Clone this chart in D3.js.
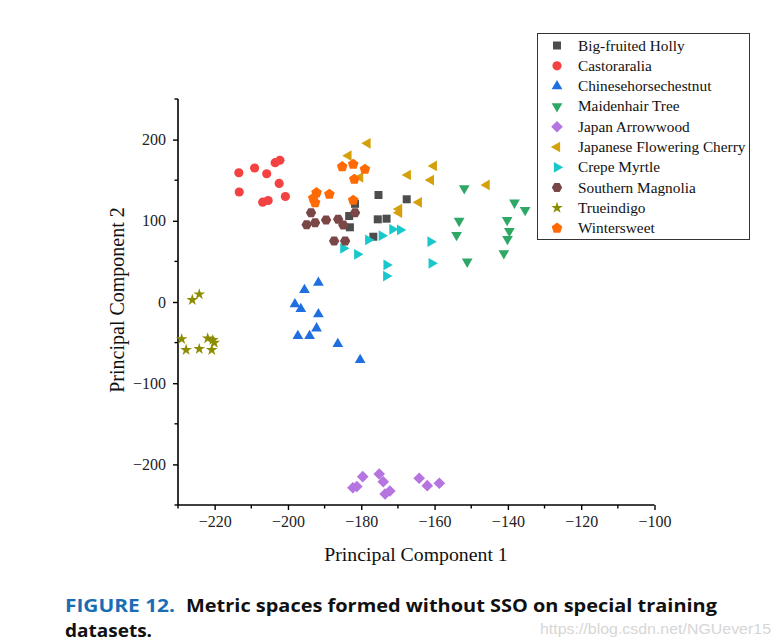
<!DOCTYPE html>
<html><head><meta charset="utf-8">
<script src="https://cdn.jsdelivr.net/npm/d3@7"></script>
<style>body{margin:0;background:#fff}svg{display:block}</style>
</head><body>
<svg id="c" width="779" height="644"></svg>
<script>
const seriesNames = ["Big-fruited Holly","Castoraralia","Chinesehorsechestnut","Maidenhair Tree","Japan Arrowwood","Japanese Flowering Cherry","Crepe Myrtle","Southern Magnolia","Trueindigo","Wintersweet"];
const seriesColors = ["#4d4d4d","#f44242","#1f6fe0","#2fa866","#b574e0","#d4a00c","#18c8cc","#7a4646","#8c8c00","#ff6a05"];
const seriesShapes = ["square","circle","triUp","triDown","diamond","triLeft","triRight","hexagon","star","pentagon"];

const bigFruitedHolly = [[-175.3,131.8],[-167.6,126.5],[-183.3,105.9],[-175.5,101.8],[-173.1,102.6],[-183.1,92],[-176.7,80.4],[-181.7,120.9]];
const castoraralia = [[-213.4,159.2],[-209.1,165],[-205.8,157.9],[-203.5,171.6],[-202.2,174.6],[-202.4,146],[-213.3,135.5],[-206.9,122.9],[-205.4,125],[-200.7,129.9]];
const chinesehorsechestnut = [[-195.5,14.8],[-191.7,23.8],[-198.1,-2.8],[-196.5,-8.6],[-191.7,-15.1],[-192.2,-32.4],[-197.3,-41.9],[-194.1,-41.9],[-186.4,-51.7],[-180.3,-71.4]];
const maidenhairTree = [[-151.9,140],[-138.2,122.3],[-135.3,113.3],[-153.3,99.8],[-140.2,101],[-139.6,87.4],[-154.0,82.5],[-140.1,77.6],[-141.1,60],[-151.1,49.6]];
const japanArrowwood = [[-179.6,-215.1],[-182.3,-228.7],[-181.2,-227.2],[-175.1,-211.8],[-174.0,-221.3],[-173.5,-236.5],[-172.2,-232.8],[-164.2,-217.1],[-162.0,-226.2],[-158.7,-223.3]];
const japaneseFloweringCherry = [[-178.3,195.4],[-183.5,180.2],[-180.3,153.6],[-167.3,156.4],[-160.2,167.5],[-161.0,150.2],[-145.8,144.1],[-164.3,122.8],[-169.7,110],[-169.7,114.5]];
const crepeMyrtle = [[-184.9,66.1],[-181.1,58.7],[-178.1,76.4],[-174.4,81.7],[-171.5,89.5],[-169.4,88.7],[-161.1,74.3],[-160.8,47.7],[-173.1,45.6],[-173.2,32]];
const southernMagnolia = [[-193.7,110],[-194.9,95.2],[-192.6,97.7],[-189.6,101],[-186.3,101.8],[-184.9,94.8],[-181.7,110],[-187.4,75.1],[-184.4,75.1]];
const trueindigo = [[-226.1,2.5],[-224.2,9.5],[-229.0,-45.6],[-227.8,-59.1],[-224.2,-57.9],[-221.9,-44.7],[-220.1,-50.1],[-220.8,-59.1],[-220.5,-46.8]];
const wintersweet = [[-185.2,166.6],[-182.2,169.6],[-179.0,163.4],[-181.9,151.1],[-192.2,134.6],[-193.1,127.7],[-192.6,122.3],[-188.7,132.6],[-182.2,125.2]];
const seriesData = [bigFruitedHolly,castoraralia,chinesehorsechestnut,maidenhairTree,japanArrowwood,japaneseFloweringCherry,crepeMyrtle,southernMagnolia,trueindigo,wintersweet];

const xTicks = [-220,-200,-180,-160,-140,-120,-100];
const xMinorTicks = [-230,-210,-190,-170,-150,-130,-110];
const yTicks = [-200,-100,0,100,200];
const yMinorTicks = [-250,-150,-50,50,150,250];

const svg = d3.select("#c");
const x = d3.scaleLinear().domain([-230,-100]).range([178,654.5]);
const y = d3.scaleLinear().domain([-250,250]).range([505,99]);
const serif = "'Liberation Serif','Times New Roman',serif";

function polyPath(n, r, rot){
  const pts=[];
  for(let i=0;i<n;i++){const a=rot+i*2*Math.PI/n;pts.push([r*Math.sin(a),-r*Math.cos(a)]);}
  return "M"+pts.map(p=>p[0].toFixed(2)+","+p[1].toFixed(2)).join("L")+"Z";
}
function shapePath(s){
  switch(s){
    case "square": return d3.symbol(d3.symbolSquare, 64)();
    case "circle": return d3.symbol(d3.symbolCircle, 66)();
    case "triUp": return polyPath(3,6.2,0);
    case "triDown": return polyPath(3,6.2,Math.PI);
    case "triLeft": return polyPath(3,6.2,-Math.PI/2);
    case "triRight": return polyPath(3,6.2,Math.PI/2);
    case "diamond": return polyPath(4,5.8,0);
    case "hexagon": return polyPath(6,5.2,Math.PI/6);
    case "pentagon": return polyPath(5,5.6,0);
    case "star": return d3.symbol(d3.symbolStar, 42)();
  }
}

// axes
const xAxis = d3.axisBottom(x).tickValues(xTicks).tickSize(5).tickPadding(6).tickFormat(d=>d3.format("")(d).replace("-","\u2212"));
const gx = svg.append("g").attr("transform","translate(0,505)").call(xAxis);
gx.select(".domain").attr("stroke","#000").attr("stroke-width",1.6).attr("d","M178,0H654.5");
gx.selectAll(".tick line").attr("stroke","#000").attr("stroke-width",1.4);
gx.selectAll(".tick text").attr("font-family",serif).attr("font-size",16).attr("fill","#222");
svg.append("g").selectAll("line").data(xMinorTicks).join("line")
  .attr("x1",d=>x(d)).attr("x2",d=>x(d)).attr("y1",505).attr("y2",508.5).attr("stroke","#000").attr("stroke-width",1.4);

const yAxis = d3.axisLeft(y).tickValues(yTicks).tickSize(5).tickPadding(7).tickFormat(d=>d3.format("")(d).replace("-","\u2212"));
const gy = svg.append("g").attr("transform","translate(178,0)").call(yAxis);
gy.select(".domain").attr("stroke","#000").attr("stroke-width",1.6).attr("d","M0,99V505");
gy.selectAll(".tick line").attr("stroke","#000").attr("stroke-width",1.4);
gy.selectAll(".tick text").attr("font-family",serif).attr("font-size",16).attr("fill","#222");
svg.append("g").selectAll("line").data(yMinorTicks).join("line")
  .attr("y1",d=>y(d)).attr("y2",d=>y(d)).attr("x1",178).attr("x2",174.5).attr("stroke","#000").attr("stroke-width",1.4);

svg.append("text").attr("x",416).attr("y",561).attr("text-anchor","middle")
  .attr("font-family",serif).attr("font-size",19.8).attr("fill","#111").text("Principal Component 1");
svg.append("text").attr("transform","translate(124,300) rotate(-90)").attr("text-anchor","middle")
  .attr("font-family",serif).attr("font-size",20).attr("fill","#111").text("Principal Component 2");

// points
seriesData.forEach((data,i)=>{
  svg.append("g").selectAll("path").data(data).join("path")
    .attr("d",shapePath(seriesShapes[i]))
    .attr("transform",d=>`translate(${x(d[0])},${y(d[1])})`)
    .attr("fill",seriesColors[i]);
});

// legend
const lg = svg.append("g");
lg.append("rect").attr("x",537.5).attr("y",33.5).attr("width",212).attr("height",206)
  .attr("fill","#fff").attr("stroke","#333").attr("stroke-width",1);
seriesNames.forEach((n,i)=>{
  const yy = 45.5 + i*20.3;
  lg.append("path").attr("d",shapePath(seriesShapes[i])).attr("transform",`translate(557,${yy})`).attr("fill",seriesColors[i]);
  lg.append("text").attr("x",578).attr("y",yy+5).attr("font-family",serif).attr("font-size",15.3).attr("fill","#111").text(n);
});

// caption
const sans = "'Open Sans','Noto Sans',sans-serif";
svg.append("text").attr("x",65).attr("y",612).attr("font-family",sans).attr("font-weight",700).attr("font-size",18)
  .attr("fill","#1a6db4").attr("textLength",110).attr("lengthAdjust","spacingAndGlyphs").text("FIGURE 12.");
svg.append("text").attr("x",186).attr("y",612).attr("font-family",sans).attr("font-weight",700).attr("font-size",18)
  .attr("fill","#111").attr("textLength",531).attr("lengthAdjust","spacingAndGlyphs").text("Metric spaces formed without SSO on special training");
svg.append("text").attr("x",65).attr("y",637).attr("font-family",sans).attr("font-weight",700).attr("font-size",18)
  .attr("fill","#111").attr("textLength",87).attr("lengthAdjust","spacingAndGlyphs").text("datasets.");
svg.append("text").attr("x",540).attr("y",634).attr("font-family","'Liberation Sans',sans-serif").attr("font-size",15)
  .attr("fill","#d6d6d6").attr("textLength",231).attr("lengthAdjust","spacingAndGlyphs").text("https://blog.csdn.net/NGUever15");
</script>
</body></html>
